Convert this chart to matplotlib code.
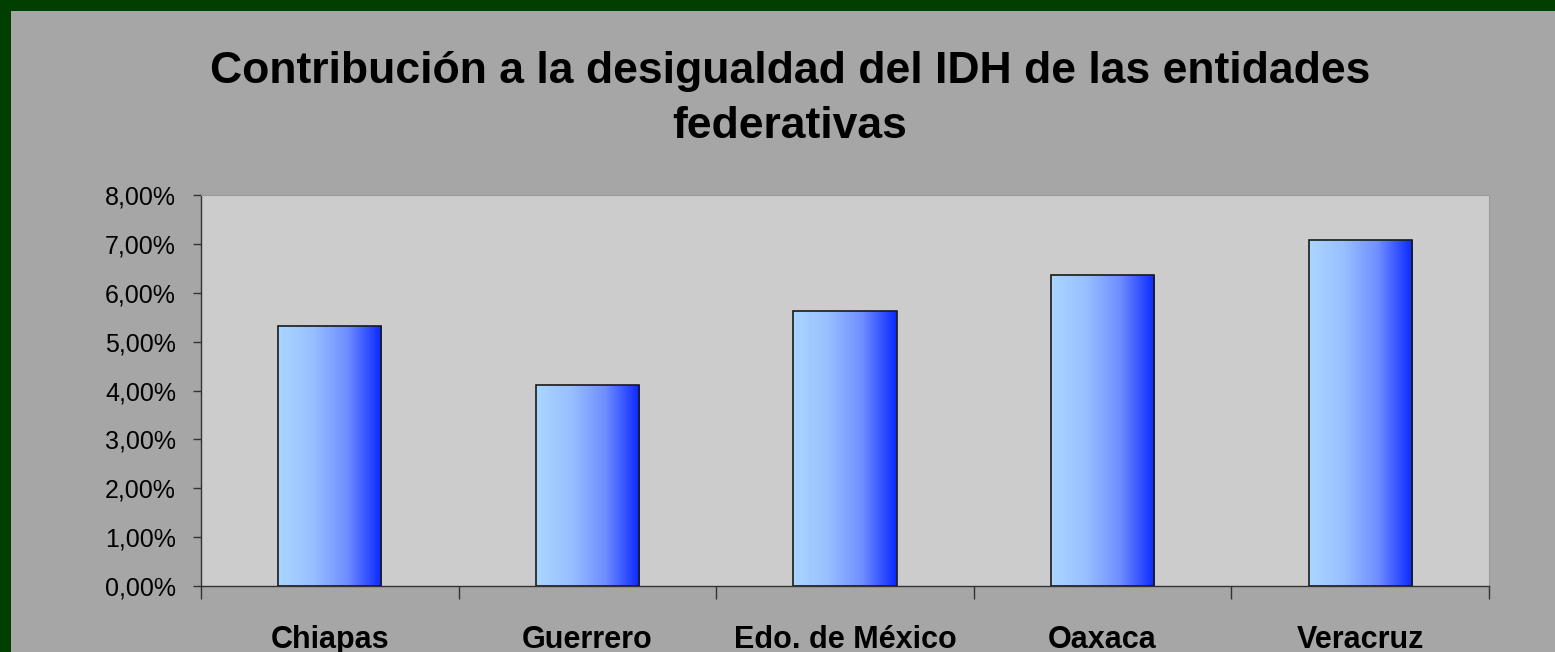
import matplotlib
matplotlib.use("Agg")
import matplotlib.pyplot as plt
import numpy as np
from matplotlib.patches import Rectangle
from matplotlib.colors import LinearSegmentedColormap
from matplotlib.ticker import FuncFormatter, MultipleLocator

categories = ["Chiapas", "Guerrero", "Edo. de México", "Oaxaca", "Veracruz"]
values = [5.31, 4.12, 5.63, 6.37, 7.07]  # percent
title = "Contribución a la desigualdad del IDH de las entidades\nfederativas"

W, H = 1555, 652
fig = plt.figure(figsize=(W / 100, H / 100), dpi=100)
fig.patch.set_facecolor("#a6a6a6")
# dark green border on top and left
fig.add_artist(Rectangle((0, 1 - 11 / H), 1, 11 / H, transform=fig.transFigure,
                         facecolor="#003f00", edgecolor="none", zorder=-1))
fig.add_artist(Rectangle((0, 0), 11 / W, 1, transform=fig.transFigure,
                         facecolor="#003f00", edgecolor="none", zorder=-1))

ax = fig.add_axes([201 / W, 1 - 586 / H, (1489 - 201) / W, (586 - 195) / H])
ax.set_facecolor("#cccccc")

cmap = LinearSegmentedColormap.from_list("bl", ["#aad6ff", "#98c0ff", "#6f8eff", "#0a28ff"])
grad = np.linspace(0, 1, 256).reshape(1, -1)
width = 0.4
x = np.arange(len(categories))
bars = ax.bar(x, values, width=width, facecolor="none", edgecolor="#1a1a1a",
              linewidth=1.2, zorder=3)
for b in bars:
    x0, y0 = b.get_x(), b.get_y()
    w, h = b.get_width(), b.get_height()
    im = ax.imshow(grad, extent=[x0, x0 + w, y0, y0 + h], aspect="auto",
                   cmap=cmap, zorder=2, interpolation="bicubic")
    im.set_clip_path(b)

ax.set_xlim(-0.5, len(categories) - 0.5)
ax.set_ylim(0, 8)
ax.yaxis.set_major_locator(MultipleLocator(1))
ax.yaxis.set_major_formatter(FuncFormatter(lambda v, p: f"{v:.2f}%".replace(".", ",")))
ax.set_xticks(x)
ax.set_xticklabels(categories, fontsize=22, fontweight="bold", family="Liberation Sans")
ax.tick_params(axis="x", length=0, pad=28)
ax.set_xticks(np.arange(len(categories) + 1) - 0.5, minor=True)
ax.tick_params(axis="x", which="minor", length=9, width=1, color="#333333", direction="out")
ax.tick_params(axis="y", length=6, width=1, color="#333333", labelsize=18, pad=12)
for lbl in ax.get_yticklabels():
    lbl.set_family("Liberation Sans")
for s in ["top", "right"]:
    ax.spines[s].set_color("#999999")
    ax.spines[s].set_linewidth(0.8)
for s in ["left", "bottom"]:
    ax.spines[s].set_color("#333333")
    ax.spines[s].set_linewidth(1)

fig.text(790 / W, 1 - 99 / H, title, ha="center", va="center", fontsize=32,
         fontweight="bold", family="Liberation Sans", linespacing=1.42)

fig.savefig("out.png", dpi=100, facecolor=fig.get_facecolor())
